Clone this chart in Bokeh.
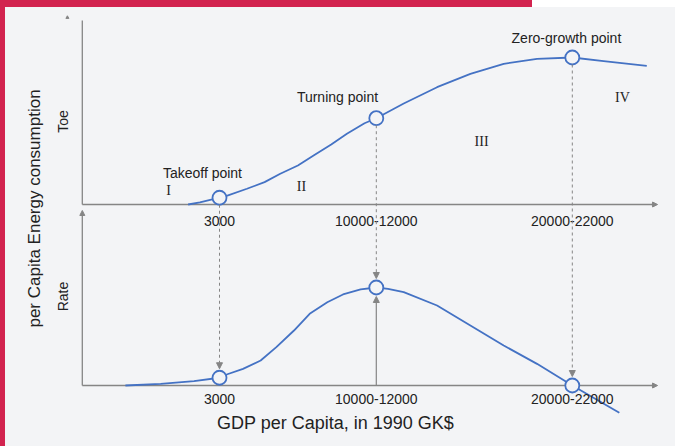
from bokeh.plotting import figure
from bokeh.models import Range1d, Arrow, NormalHead
from bokeh.core.properties import value
from bokeh.embed import file_html
from bokeh.resources import INLINE

# ---------------- data ----------------
# x: GDP per capita (thousand 1990 GK$, conceptual)
stage_x = [3, 11, 21]
tick_labels = ["3000", "10000-12000", "20000-22000"]
stage_names = ["Takeoff point", "Turning point", "Zero-growth point"]
phase_labels = ["I", "II", "III", "IV"]

# per capita energy consumption (Toe), relative
toe_x = [1.4, 2.0, 3.0, 3.4, 4.4, 5.3, 6.1, 7.0, 7.8, 8.7, 9.5, 10.4, 11.0,
         12.4, 14.1, 15.8, 17.5, 19.2, 21.0, 22.6, 24.8]
toe_y = [0.0, 0.014, 0.046, 0.061, 0.107, 0.152, 0.209, 0.265, 0.333, 0.408,
         0.481, 0.553, 0.587, 0.687, 0.798, 0.889, 0.957, 0.991, 1.0, 0.975, 0.943]
toe_at_stage = [0.046, 0.587, 1.0]

# growth rate of consumption, relative
rate_x = [-1.8, 0.0, 1.7, 3.0, 3.4, 4.2, 5.1, 5.9, 6.8, 7.6, 8.5, 9.3, 10.2,
          11.0, 11.6, 12.4, 14.1, 15.8, 17.5, 19.2, 21.0, 23.4]
rate_y = [0.0, 0.017, 0.044, 0.079, 0.115, 0.17, 0.255, 0.391, 0.561, 0.732,
          0.85, 0.929, 0.98, 1.0, 0.987, 0.952, 0.816, 0.612, 0.408, 0.221, 0.0, -0.279]
rate_at_stage = [0.079, 1.0, 0.0]

# ---------------- layout constants ----------------
W, H = 659, 430
PX_PER_X = 19.6
X_REF, X_REF_PX = 3, 211
TOE_BASE_PX, TOE_PX = 196, 147
RATE_BASE_PX, RATE_PX = 377, 98
CIRCLE_PX = 7
GAP_PX = 2

BG = "#f3f4f6"
BLUE = "#4472c4"
GREY = "#858585"
TXT = "#222222"
SANS = value("Liberation Sans")
SERIF = value("Liberation Serif")


def toe_to_rate(v):
    return (RATE_BASE_PX - (TOE_BASE_PX - v * TOE_PX)) / RATE_PX


p = figure(width=W, height=H, output_backend="svg", toolbar_location=None,
           x_range=Range1d(X_REF - X_REF_PX / PX_PER_X, X_REF + (W - X_REF_PX) / PX_PER_X),
           y_range=Range1d(-(H - TOE_BASE_PX) / TOE_PX, TOE_BASE_PX / TOE_PX),
           x_axis_type=None, y_axis_type=None, min_border=0)
p.extra_y_ranges = {"rate": Range1d(-(H - RATE_BASE_PX) / RATE_PX, RATE_BASE_PX / RATE_PX)}
p.background_fill_color = BG
p.border_fill_color = BG
p.outline_line_color = None
p.xgrid.visible = False
p.ygrid.visible = False

AX_X = -4.0
AX_END = 25.35

# ---- axes (drawn) ----
p.segment(x0=[AX_X], y0=[0], x1=[AX_X], y1=[1.252], line_color=GREY, line_width=1.3)
p.segment(x0=[AX_X], y0=[0], x1=[AX_END - 0.15], y1=[0], line_color=GREY, line_width=1.3)
p.add_layout(Arrow(end=NormalHead(size=5, fill_color=GREY, line_color=GREY),
                   x_start=AX_END - 0.3, y_start=0, x_end=AX_END, y_end=0,
                   line_color=GREY, line_width=1.3))
p.scatter(x=[-4.76], y=[1.272], marker="triangle", size=3, color=GREY)

p.segment(x0=[AX_X], y0=[0], x1=[AX_END - 0.15], y1=[0], line_color=GREY,
          line_width=1.3, y_range_name="rate")
p.add_layout(Arrow(end=NormalHead(size=5, fill_color=GREY, line_color=GREY),
                   x_start=AX_END - 0.3, y_start=0, x_end=AX_END, y_end=0,
                   line_color=GREY, line_width=1.3, y_range_name="rate"))
p.add_layout(Arrow(end=NormalHead(size=5, fill_color=GREY, line_color=GREY),
                   x_start=AX_X, y_start=0, x_end=AX_X, y_end=1.786,
                   line_color=GREY, line_width=1.3, y_range_name="rate"))

# ---- dashed connectors ----
for sx, tv, rv in zip(stage_x, toe_at_stage, rate_at_stage):
    p.add_layout(Arrow(end=NormalHead(size=6, fill_color=GREY, line_color=GREY),
                       x_start=sx, y_start=toe_to_rate(tv - CIRCLE_PX / TOE_PX),
                       x_end=sx, y_end=rv + (CIRCLE_PX + GAP_PX) / RATE_PX,
                       line_color=GREY, line_width=1, line_dash="3 3",
                       y_range_name="rate"))

# solid arrow up to turning point rate peak
p.add_layout(Arrow(end=NormalHead(size=6, fill_color=GREY, line_color=GREY),
                   x_start=stage_x[1], y_start=0, x_end=stage_x[1],
                   y_end=rate_at_stage[1] - (CIRCLE_PX + GAP_PX) / RATE_PX,
                   line_color=GREY, line_width=1.2, y_range_name="rate"))

# ---- curves ----
p.line(toe_x, toe_y, line_color=BLUE, line_width=1.8, line_join="round")
p.line(rate_x, rate_y, line_color=BLUE, line_width=1.8, line_join="round",
       y_range_name="rate")
p.scatter(stage_x, toe_at_stage, size=14, fill_color=BG, line_color=BLUE, line_width=1.8)
p.scatter(stage_x, rate_at_stage, size=14, fill_color=BG, line_color=BLUE,
          line_width=1.8, y_range_name="rate")

# ---- texts ----
common = dict(text_align="center", text_baseline="middle", text_color=TXT, text_font=SANS)
p.text(x=stage_x, y=[-0.109] * 3, text=tick_labels, text_font_size="14px", **common)
p.text(x=stage_x, y=[-0.133] * 3, text=tick_labels, text_font_size="14px",
       y_range_name="rate", **common)
p.text(x=[2.13, 9.02, 20.70], y=[0.211, 0.728, 1.136], text=stage_names,
       text_font_size="14px", **common)
p.text(x=[0.40, 7.18, 16.37, 23.56], y=[0.095, 0.122, 0.429, 0.728], text=phase_labels,
       text_font_size="14px", text_align="center", text_baseline="middle",
       text_color=TXT, text_font=SERIF)
p.text(x=[8.92], y=[-0.378], text=["GDP per Capita, in 1990 GK$"], text_font_size="18px",
       y_range_name="rate", **common)
p.text(x=[-6.44], y=[-0.027], text=["per Capita Energy consumption"], text_font_size="17px",
       angle=1.5707963, **common)
p.text(x=[-4.98], y=[0.565], text=["Toe"], text_font_size="14px", angle=1.5707963, **common)
p.text(x=[-4.98], y=[0.908], text=["Rate"], text_font_size="14px", angle=1.5707963,
       y_range_name="rate", **common)

html = file_html(p, INLINE)
style = ("<style>html{min-height:100%;background:"
         "linear-gradient(#d2234f,#d2234f) 0 0/532px 7px no-repeat,"
         "linear-gradient(#d2234f,#d2234f) 0 0/5px 100% no-repeat,"
         "linear-gradient(#ffffff,#ffffff) 0 0/100% 7px no-repeat,#f3f4f6;}"
         "body{margin:8px;background:transparent;}</style>")
html = html.replace("</head>", style + "</head>", 1)
open("out.html", "w").write(html)
